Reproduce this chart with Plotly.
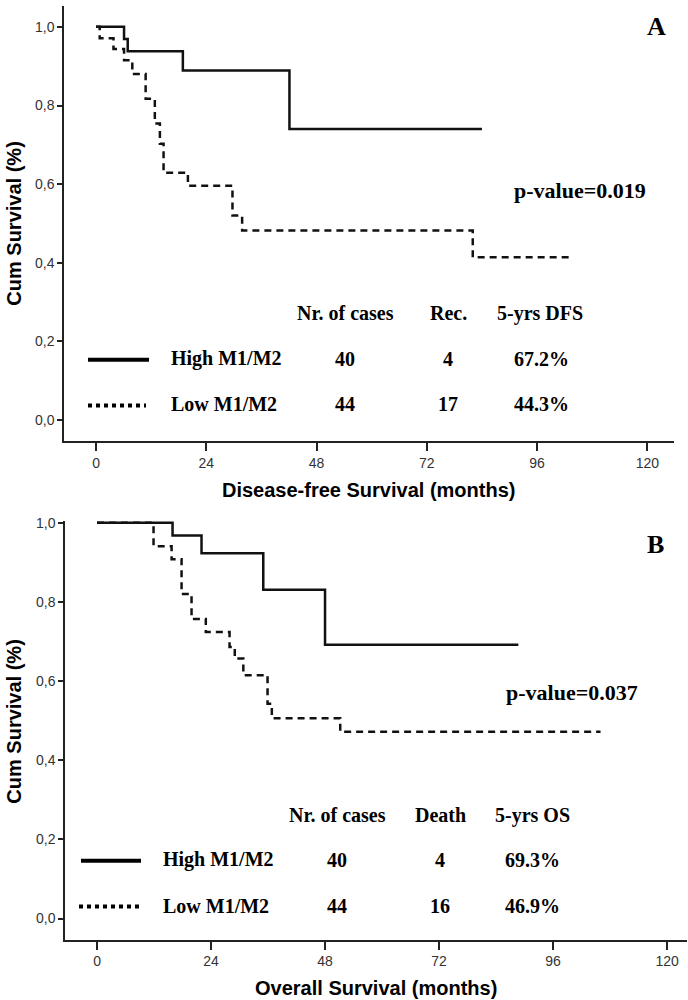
import plotly.graph_objects as go

# Kaplan-Meier steps (months, cumulative survival)
dfs_high_t = [0, 6.1, 6.9, 18.9, 42.1, 84.0]
dfs_high_s = [1.0, 0.969, 0.938, 0.889, 0.740, 0.740]
dfs_low_t = [0, 0.8, 3.8, 6.1, 7.9, 10.8, 12.8, 13.9, 14.7, 20.0, 29.7, 31.8, 82.0, 103.2]
dfs_low_s = [1.0, 0.971, 0.944, 0.915, 0.880, 0.817, 0.754, 0.703, 0.629, 0.596, 0.520, 0.482, 0.414, 0.414]

os_high_t = [0, 15.9, 22.0, 35.0, 48.0, 88.7]
os_high_s = [1.0, 0.968, 0.923, 0.831, 0.692, 0.692]
os_low_t = [0, 11.9, 15.7, 17.8, 19.9, 22.9, 27.9, 29.0, 30.8, 35.9, 36.8, 51.2, 106.0]
os_low_s = [1.0, 0.941, 0.908, 0.820, 0.757, 0.724, 0.686, 0.657, 0.615, 0.543, 0.506, 0.472, 0.472]

# table inside each panel
groups = ["High M1/M2", "Low M1/M2"]
dfs_header = ["Nr. of cases", "Rec.", "5-yrs DFS"]
dfs_cases = [40, 44]
dfs_rec = [4, 17]
dfs_5yr = ["67.2%", "44.3%"]
os_header = ["Nr. of cases", "Death", "5-yrs OS"]
os_cases = [40, 44]
os_death = [4, 16]
os_5yr = ["69.3%", "46.9%"]

x_ticks = [0, 24, 48, 72, 96, 120]
y_ticks = [0.0, 0.2, 0.4, 0.6, 0.8, 1.0]
y_tick_text = ["0,0", "0,2", "0,4", "0,6", "0,8", "1,0"]

W, H = 688, 1000


def px(x):
    return x / W


def py(y):
    return 1 - y / H


SANS = "Liberation Sans, Arial, sans-serif"
SERIF = "Liberation Serif, Times New Roman, serif"
solid = dict(shape="hv", color="#111111", width=2.5)
dashed = dict(shape="hv", color="#111111", width=2.5, dash="7px,5px")

fig = go.Figure()
fig.add_trace(go.Scatter(x=dfs_high_t, y=dfs_high_s, mode="lines", line=solid, xaxis="x", yaxis="y"))
fig.add_trace(go.Scatter(x=dfs_low_t, y=dfs_low_s, mode="lines", line=dashed, xaxis="x", yaxis="y"))
fig.add_trace(go.Scatter(x=os_high_t, y=os_high_s, mode="lines", line=solid, xaxis="x2", yaxis="y2"))
fig.add_trace(go.Scatter(x=os_low_t, y=os_low_s, mode="lines", line=dashed, xaxis="x2", yaxis="y2"))

ax = dict(showline=True, linecolor="#222222", linewidth=1.5, ticks="outside", tickcolor="#222222",
          tickwidth=1.5, showgrid=False, zeroline=False,
          tickfont=dict(family=SANS, size=14, color="#333333"))

fig.update_layout(
    width=W, height=H, margin=dict(l=0, r=0, t=0, b=0),
    paper_bgcolor="white", plot_bgcolor="white", showlegend=False,
    xaxis=dict(ax, domain=[px(64), px(674)], range=[-6.97, 125.8], anchor="y",
               tickvals=x_ticks, ticklen=8),
    yaxis=dict(ax, domain=[py(438), 1.0], range=[-0.0544, 1.0531], anchor="x",
               tickvals=y_ticks, ticktext=y_tick_text, ticklen=5),
    xaxis2=dict(ax, domain=[px(65), px(687)], range=[-6.74, 124.2], anchor="y2",
                tickvals=x_ticks, ticklen=8),
    yaxis2=dict(ax, domain=[py(939.5), py(518)], range=[-0.054, 1.005], anchor="x2",
                tickvals=y_ticks, ticktext=y_tick_text, ticklen=5),
)


def txt(x, y, s, size, family=SERIF, xanchor="center", angle=0):
    fig.add_annotation(x=px(x), y=py(y), xref="paper", yref="paper", text=s, showarrow=False,
                       xanchor=xanchor, yanchor="middle", textangle=angle,
                       font=dict(family=family, size=size, color="black", weight="bold"))


# axis titles
txt(369, 487, "Disease-free Survival (months)", 20, SANS)
txt(14, 219, "Cum Survival (%)", 20, SANS, angle=-90)
txt(376, 988, "Overall Survival (months)", 20, SANS)
txt(14, 720, "Cum Survival (%)", 20, SANS, angle=-90)

# panel letters and p-values
txt(656, 21, "A", 26)
txt(655, 542, "B", 26)
txt(512, 186, "p-value=0.019", 22, xanchor="left")
txt(504, 691, "p-value=0.037", 22, xanchor="left")

# table A
cols_a = [345, 448, 540]
for c, h in zip(cols_a, dfs_header):
    txt(c, 309, h, 20)
rows_a = [355, 400]
for i, r in enumerate(rows_a):
    txt(169, r, groups[i], 20, xanchor="left")
    txt(cols_a[0], r, str(dfs_cases[i]), 20)
    txt(cols_a[1], r, str(dfs_rec[i]), 20)
    txt(cols_a[2] + 1, r, dfs_5yr[i], 20)

# table B
cols_b = [337, 440, 532]
for c, h in zip(cols_b, os_header):
    txt(c, 814, h, 20)
rows_b = [859, 905]
for i, r in enumerate(rows_b):
    txt(161, r, groups[i], 20, xanchor="left")
    txt(cols_b[0], r, str(os_cases[i]), 20)
    txt(cols_b[1], r, str(os_death[i]), 20)
    txt(cols_b[2], r, os_5yr[i], 20)

# legend line samples
for x0, x1, y, dash in [(88, 149, 356, "solid"), (88, 146, 402, "dot"),
                        (81, 141, 860, "solid"), (79, 139, 906, "dot")]:
    fig.add_shape(type="line", xref="paper", yref="paper", x0=px(x0), x1=px(x1), y0=py(y), y1=py(y),
                  line=dict(color="black", width=4, dash=dash))

# drop the default body margin so the figure sits at the page corner
fig.write_html("out.html", config={"displayModeBar": False},
               post_script="document.body.style.margin='0';")
